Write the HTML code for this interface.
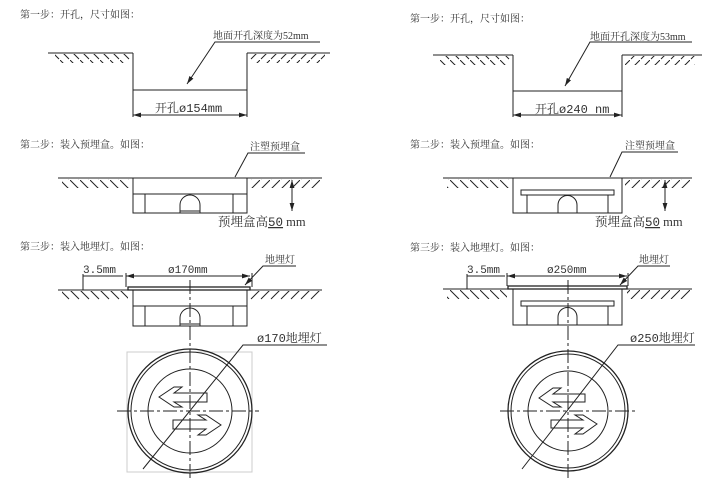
<!DOCTYPE html>
<html><head><meta charset="utf-8"><style>
html,body{margin:0;padding:0;background:#fff}
svg{display:block}
text{font-family:"Liberation Serif","Noto Serif CJK SC",serif;fill:#333}
.m{font-family:"Liberation Mono","Noto Serif CJK SC",monospace}
</style></head><body>
<svg width="720" height="484" viewBox="0 0 720 484" xmlns="http://www.w3.org/2000/svg">
<defs>
<pattern id="hl" patternUnits="userSpaceOnUse" width="10" height="10"><path d="M0 0 L9 9" stroke="#222" stroke-width="1"/></pattern>
<pattern id="hr" patternUnits="userSpaceOnUse" width="10" height="10"><path d="M10 0 L1 9" stroke="#222" stroke-width="1"/></pattern>
<marker id="ar" viewBox="0 0 10 6" refX="10" refY="3" markerWidth="8" markerHeight="5" orient="auto-start-reverse"><path d="M0 0 L10 3 L0 6 z" fill="#222"/></marker>
</defs>
<g stroke="#222" stroke-width="1" fill="none">

<line x1="48" y1="53" x2="133" y2="53"/><line x1="247" y1="53" x2="330" y2="53"/>
<rect x="55" y="54" width="75" height="9" fill="url(#hl)" stroke="none"/>
<rect x="250" y="54" width="75" height="9" fill="url(#hr)" stroke="none"/>
<path d="M133 53 V90 H247 V53"/>
<line x1="133" y1="90" x2="133" y2="117"/><line x1="247" y1="90" x2="247" y2="117"/>
<line x1="133" y1="115" x2="247" y2="115" marker-start="url(#ar)" marker-end="url(#ar)"/>
<path d="M320 42 H215 L187 84" marker-end="url(#ar)"/>

<line x1="58" y1="178" x2="133" y2="178"/><line x1="247" y1="178" x2="322" y2="178"/>
<rect x="62" y="179" width="68" height="9" fill="url(#hl)" stroke="none"/>
<rect x="250" y="179" width="70" height="9" fill="url(#hr)" stroke="none"/>
<rect x="133" y="178" width="114" height="35"/>
<line x1="133" y1="194" x2="247" y2="194"/>
<line x1="145" y1="194" x2="145" y2="213"/><line x1="233" y1="194" x2="233" y2="213"/>
<path d="M180 213 V205 A10 10 0 0 1 200 205 V213"/>
<line x1="180" y1="211" x2="200" y2="211"/>
<path d="M305 153 H248 L235 177"/>
<line x1="292" y1="180" x2="292" y2="211" marker-start="url(#ar)" marker-end="url(#ar)"/>

<line x1="58" y1="290" x2="322" y2="290"/>
<rect x="62" y="291" width="66" height="9" fill="url(#hl)" stroke="none"/>
<rect x="250" y="291" width="70" height="9" fill="url(#hr)" stroke="none"/>
<rect x="128" y="287" width="122" height="3" stroke-width="1.3"/>
<rect x="133" y="290" width="114" height="36"/>
<line x1="133" y1="306" x2="247" y2="306"/>
<line x1="145" y1="306" x2="145" y2="326"/><line x1="233" y1="306" x2="233" y2="326"/>
<path d="M180 326 V318 A10 10 0 0 1 200 318 V326"/><line x1="180" y1="324" x2="200" y2="324"/>
<line x1="83" y1="274" x2="83" y2="290"/><line x1="83" y1="276" x2="123" y2="276"/>
<line x1="126" y1="276" x2="250" y2="276" marker-start="url(#ar)" marker-end="url(#ar)"/>
<line x1="126" y1="273" x2="126" y2="287"/><line x1="252" y1="273" x2="252" y2="287"/>
<path d="M296 266 H263 L245 285" marker-end="url(#ar)"/>
<line x1="190" y1="280" x2="190" y2="478" stroke-dasharray="14 3 3 3"/>
<rect x="127" y="352" width="125" height="120" stroke="#ccc"/>
<circle cx="190" cy="411" r="62" stroke-width="1.3"/>
<circle cx="190" cy="411" r="59"/>
<circle cx="190" cy="411" r="42"/>
<line x1="117" y1="411" x2="259" y2="411" stroke-dasharray="14 3 3 3"/>
<path d="M143 469 L243 345 H327" />
<g transform="translate(190,411)">
<polygon points="-31,-14 -16,-24 -8,-24 -16,-18 17,-18 17,-9 -16,-9 -8,-4 -16,-4"/>
<polygon points="31,14 16,24 8,24 16,18 -17,18 -17,9 16,9 8,4 16,4"/>
</g>

<line x1="433" y1="55" x2="513" y2="55"/><line x1="622" y1="55" x2="702" y2="55"/>
<rect x="440" y="56" width="70" height="9" fill="url(#hl)" stroke="none"/>
<rect x="625" y="56" width="70" height="9" fill="url(#hr)" stroke="none"/>
<path d="M513 55 V91 H622 V55"/>
<line x1="513" y1="91" x2="513" y2="117"/><line x1="622" y1="91" x2="622" y2="117"/>
<line x1="513" y1="115" x2="622" y2="115" marker-start="url(#ar)" marker-end="url(#ar)"/>
<path d="M692 42 H590 L565 86" marker-end="url(#ar)"/>

<line x1="443" y1="178" x2="513" y2="178"/><line x1="622" y1="178" x2="692" y2="178"/>
<rect x="447" y="179" width="63" height="9" fill="url(#hl)" stroke="none"/>
<rect x="625" y="179" width="65" height="9" fill="url(#hr)" stroke="none"/>
<rect x="513" y="178" width="109" height="35"/>
<rect x="521" y="190" width="93" height="5"/>
<line x1="527" y1="195" x2="527" y2="213"/><line x1="608" y1="195" x2="608" y2="213"/>
<path d="M558 213 V205 A9.5 9.5 0 0 1 577 205 V213"/>
<path d="M678 152 H622 L610 177"/>
<line x1="665" y1="180" x2="665" y2="211" marker-start="url(#ar)" marker-end="url(#ar)"/>

<line x1="443" y1="289" x2="692" y2="289"/>
<rect x="447" y="290" width="60" height="9" fill="url(#hl)" stroke="none"/>
<rect x="627" y="290" width="63" height="9" fill="url(#hr)" stroke="none"/>
<rect x="508" y="286" width="119" height="3" stroke-width="1.3"/>
<rect x="513" y="289" width="109" height="36"/>
<rect x="521" y="301" width="93" height="5"/>
<line x1="527" y1="306" x2="527" y2="325"/><line x1="608" y1="306" x2="608" y2="325"/>
<path d="M558 325 V317 A9.5 9.5 0 0 1 577 317 V325"/>
<line x1="467" y1="274" x2="467" y2="289"/><line x1="467" y1="276" x2="505" y2="276"/>
<line x1="507" y1="276" x2="627" y2="276" marker-start="url(#ar)" marker-end="url(#ar)"/>
<line x1="507" y1="273" x2="507" y2="286"/><line x1="628" y1="273" x2="628" y2="286"/>
<path d="M670 266 H638 L620 285" marker-end="url(#ar)"/>
<line x1="568" y1="280" x2="568" y2="478" stroke-dasharray="14 3 3 3"/>
<circle cx="568" cy="411" r="60" stroke-width="1.3"/>
<circle cx="568" cy="411" r="57"/>
<circle cx="568" cy="411" r="40"/>
<line x1="500" y1="411" x2="636" y2="411" stroke-dasharray="14 3 3 3"/>
<path d="M522 469 L618 345 H695"/>
<g transform="translate(568,411)">
<polygon points="-29,-13 -15,-23 -7,-23 -15,-17 17,-17 17,-9 -15,-9 -7,-4 -15,-4"/>
<polygon points="29,13 15,23 7,23 15,17 -17,17 -17,9 15,9 7,4 15,4"/>
</g>
</g>

<g font-size="10">
<text x="20" y="18">第一步：开孔，尺寸如图：</text>
<text x="213" y="39">地面开孔深度为52mm</text>
<text x="155" y="112" font-size="12" class="m">开孔ø154mm</text>
<text x="20" y="148">第二步：装入预埋盒。如图：</text>
<text x="250" y="150">注塑预埋盒</text>
<text x="218" y="226" font-size="12.5">预埋盒高<tspan text-decoration="underline" class="m">50</tspan> mm</text>
<text x="20" y="250">第三步：装入地埋灯。如图：</text>
<text x="265" y="263">地埋灯</text>
<text x="83" y="273" font-size="11" class="m">3.5mm</text>
<text x="168" y="273" font-size="11" class="m">ø170mm</text>
<text x="257" y="342" font-size="12" class="m">ø170地埋灯</text>

<text x="410" y="22">第一步：开孔，尺寸如图：</text>
<text x="590" y="40">地面开孔深度为53mm</text>
<text x="535" y="113" font-size="12" class="m">开孔ø240 nm</text>
<text x="410" y="148">第二步：装入预埋盒。如图：</text>
<text x="625" y="149">注塑预埋盒</text>
<text x="595" y="226" font-size="12.5">预埋盒高<tspan text-decoration="underline" class="m">50</tspan> mm</text>
<text x="410" y="251">第三步：装入地埋灯。如图：</text>
<text x="639" y="263">地埋灯</text>
<text x="467" y="273" font-size="11" class="m">3.5mm</text>
<text x="547" y="273" font-size="11" class="m">ø250mm</text>
<text x="630" y="342" font-size="12" class="m">ø250地埋灯</text>
</g>
</svg>
</body></html>
